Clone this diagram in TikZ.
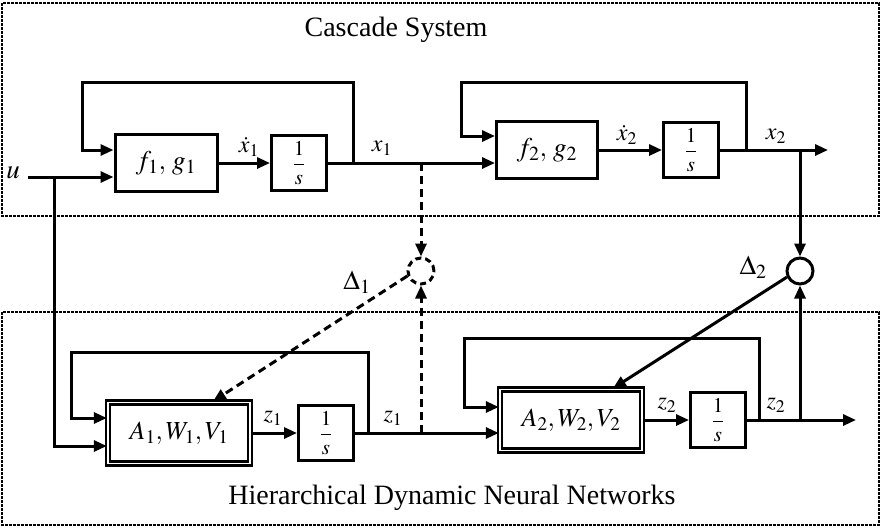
\documentclass[tikz,border=0pt]{standalone}
\usepackage{mathptmx}
\usepackage{fontspec}
\setmainfont{Liberation Serif}
\usetikzlibrary{arrows.meta}

\begin{document}
\begin{tikzpicture}[
        x=1pt, y=-1pt,
        line width=3pt,
        >={Triangle[length=13pt,width=11pt]},
        container/.style={draw, line width=1.8pt, dash pattern=on 3pt off 1pt},
        titletext/.style={font=\fontsize{28}{32}\selectfont},
        labeltext/.style={font=\fontsize{24}{28}\selectfont, inner sep=0pt},
        bigtext/.style={font=\fontsize{27}{30}\selectfont, inner sep=0pt},
        blockbox/.style={draw, line width=3pt, minimum height=57pt, inner sep=0pt, font=\fontsize{27}{30}\selectfont},
        intbox/.style={draw, line width=3pt, minimum width=55pt, minimum height=55pt, inner sep=0pt, font=\fontsize{21}{24}\selectfont},
        nnbox/.style={draw, line width=2.4pt, double, double distance=1.4pt, minimum width=142pt, minimum height=61pt, inner sep=0pt, font=\fontsize{26}{30}\selectfont},
        sumnode/.style={draw, circle, line width=3pt, minimum size=26pt, inner sep=0pt},
        errline/.style={dash pattern=on 8pt off 5pt}
    ]
        \useasboundingbox (0,0) rectangle (882,528);

        % the two subsystems
        \draw[container] (2,3) rectangle (879,216);
        \draw[container] (2,312) rectangle (879,525);
        \node[titletext] (cascadeTitle) at (396,30) {Cascade System};
        \node[titletext] (hdnnTitle) at (452,498)
            {Hierarchical Dynamic Neural Networks};

        % cascade system
        \node[blockbox, minimum width=102pt] (plant1) at (166,163) {$f_1,\, g_1$};
        \node[intbox] (plantInt1) at (299,163) {$\displaystyle\frac{1}{s}$};
        \node[blockbox, minimum width=101pt] (plant2) at (547,150) {$f_2,\, g_2$};
        \node[intbox] (plantInt2) at (691,150) {$\displaystyle\frac{1}{s}$};

        % neural networks
        \node[nnbox] (nn1) at (179,433) {$A_1, W_1, V_1$};
        \node[intbox] (nnInt1) at (326,433) {$\displaystyle\frac{1}{s}$};
        \node[nnbox] (nn2) at (571,420) {$A_2, W_2, V_2$};
        \node[intbox] (nnInt2) at (718,420) {$\displaystyle\frac{1}{s}$};

        % identification errors
        \node[sumnode, dash pattern=on 6pt off 4pt] (err1) at (421,271) {};
        \node[sumnode] (err2) at (800,271) {};

        \node[bigtext] (input) at (13,173) {$u$};
        \coordinate (uStart) at (28,177);
        \coordinate (uBranch) at (54,177);
        \coordinate (x1Tap) at (353,163);
        \coordinate (x1Branch) at (421,163);
        \coordinate (x2Tap) at (746,150);
        \coordinate (x2Branch) at (800,150);
        \coordinate (x2End) at (828,150);
        \coordinate (z1Tap) at (368,433);
        \coordinate (z1Branch) at (421,433);
        \coordinate (z2Tap) at (759,420);
        \coordinate (z2Branch) at (800,420);
        \coordinate (z2End) at (856,420);

        % signal labels
        \node[labeltext] (x1Dot) at (249,147) {$\dot{x}_1$};
        \node[labeltext] (x1Label) at (382,148) {$x_1$};
        \node[labeltext] (x2Dot) at (627,135) {$\dot{x}_2$};
        \node[labeltext] (x2Label) at (776,136) {$x_2$};
        \node[labeltext] (z1Out) at (273,418) {$z_1$};
        \node[labeltext] (z1Label) at (393,418) {$z_1$};
        \node[labeltext] (z2Out) at (667,405) {$z_2$};
        \node[labeltext] (z2Label) at (776,405) {$z_2$};
        \node[bigtext] (delta1) at (357,282) {$\Delta_1$};
        \node[bigtext] (delta2) at (753,267) {$\Delta_2$};

        % cascade connections
        \draw (uStart) -- (uBranch);
        \draw[->] (uBranch) -- (plant1.west |- uBranch);
        \draw[->] (uBranch) |- ([yshift=-13pt]nn1.west);
        \draw[->] (x1Tap) |- (82,82) |- ([yshift=13pt]plant1.west);
        \draw[->] (plant1) -- (plantInt1);
        \draw[->] (plantInt1) -- (plant2.west |- plantInt1);
        \draw[->] (x2Tap) |- (461,82) |- ([yshift=14pt]plant2.west);
        \draw[->] (plant2) -- (plantInt2);
        \draw[->] (plantInt2) -- (x2End);

        % network connections
        \draw[->] (z1Tap) |- (71,352) |- ([yshift=15pt]nn1.west);
        \draw[->] (nn1) -- (nnInt1);
        \draw[->] (nnInt1) -- (nn2.west |- nnInt1);
        \draw[->] (z2Tap) |- (464,338) |- ([yshift=13pt]nn2.west);
        \draw[->] (nn2) -- (nnInt2);
        \draw[->] (nnInt2) -- (z2End);

        % errors
        \draw[->, errline] (x1Branch) -- (err1);
        \draw[->, errline] (z1Branch) -- (err1);
        \draw[->, errline] (err1.200) -- ([xshift=34pt]nn1.north);
        \draw[->] (x2Branch) -- (err2);
        \draw[->] (z2Branch) -- (err2);
        \draw[->] (err2.205) -- ([xshift=42pt]nn2.north);
    \end{tikzpicture}
\end{document}
